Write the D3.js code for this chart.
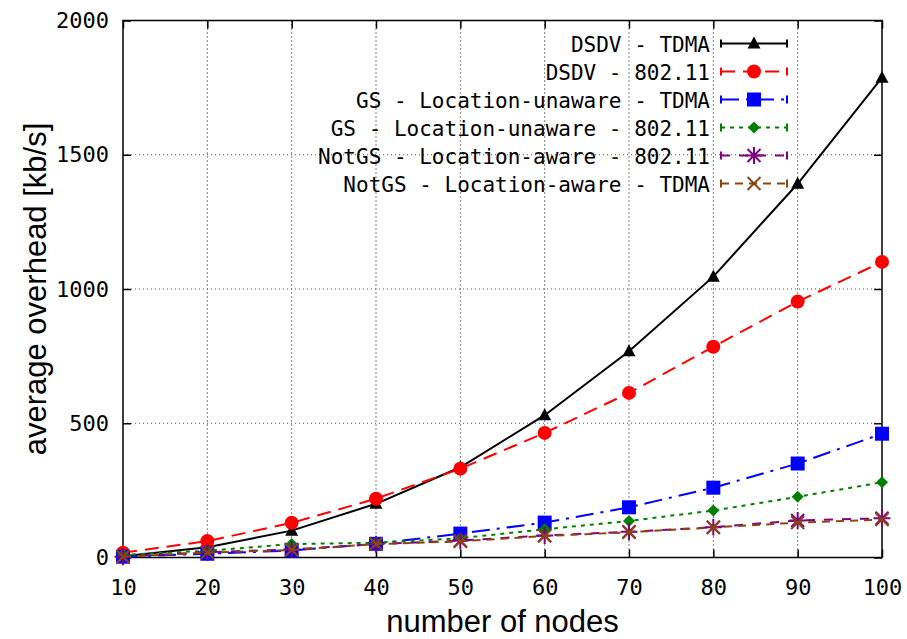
<!DOCTYPE html>
<html>
<head>
<meta charset="utf-8">
<script src="https://cdn.jsdelivr.net/npm/d3@7"></script>
<style>
body { margin: 0; background: #fff; }
</style>
</head>
<body>
<script>
// data
var nodes = [10, 20, 30, 40, 50, 60, 70, 80, 90, 100];
var dsdvTdma = [5, 38, 100, 200, 336, 530, 768, 1046, 1392, 1787];
var dsdv80211 = [18, 61, 129, 219, 331, 464, 613, 785, 953, 1101];
var gsTdma = [3, 14, 26, 51, 89, 130, 187, 260, 350, 461];
var gs80211 = [10, 25, 50, 55, 72, 105, 136, 175, 226, 280];
var notgs80211 = [3, 20, 30, 50, 63, 82, 96, 113, 138, 146];
var notgsTdma = [3, 18, 28, 50, 60, 80, 94, 112, 130, 141];
var xTicks = [10, 20, 30, 40, 50, 60, 70, 80, 90, 100];
var yTicks = [0, 500, 1000, 1500, 2000];

var seriesNames = [
	"DSDV - TDMA",
	"DSDV - 802.11",
	"GS - Location-unaware - TDMA",
	"GS - Location-unaware - 802.11",
	"NotGS - Location-aware - 802.11",
	"NotGS - Location-aware - TDMA"
];
var seriesValues = [dsdvTdma, dsdv80211, gsTdma, gs80211, notgs80211, notgsTdma];
var seriesColors = ["#000000", "#ff0000", "#0000ff", "#008000", "#800080", "#8b4513"];
var seriesDash = ["none", "14,8", "18,7,3,7", "4,5", "9,9", "8,6"];
var seriesMarker = ["triangle", "circle", "square", "diamond", "asterisk", "cross"];

var W = 907, H = 639;
var plotL = 123, plotR = 882, plotT = 20.5, plotB = 557.5;
var mono = "'DejaVu Sans Mono', monospace";
var sans = "'Liberation Sans', Arial, sans-serif";

var svg = d3.select("body").append("svg")
	.attr("width", W)
	.attr("height", H);

var x = d3.scaleLinear().domain([10, 100]).range([plotL, plotR]);
var y = d3.scaleLinear().domain([0, 2000]).range([plotB, plotT]);

// grid
svg.append("g").selectAll("line")
	.data(xTicks.slice(1, -1)).enter().append("line")
	.attr("x1", function(d){ return x(d); })
	.attr("x2", function(d){ return x(d); })
	.attr("y1", plotT).attr("y2", plotB)
	.attr("stroke", "#000").attr("stroke-width", 1)
	.attr("stroke-dasharray", "1,3");

svg.append("g").selectAll("line")
	.data(yTicks.slice(1, -1)).enter().append("line")
	.attr("x1", plotL).attr("x2", plotR)
	.attr("y1", function(d){ return y(d); })
	.attr("y2", function(d){ return y(d); })
	.attr("stroke", "#555").attr("stroke-width", 1)
	.attr("stroke-dasharray", "1,3");

// axes, ticks inward on all four sides
var tickLen = 8;
var axisStyle = function(g){
	g.select(".domain").remove();
	g.selectAll(".tick line").attr("stroke", "#000").attr("stroke-width", 1.5);
	g.selectAll(".tick text").attr("font-family", mono).attr("font-size", 22).attr("fill", "#000");
};

svg.append("g")
	.attr("transform", "translate(0," + plotB + ")")
	.call(d3.axisBottom(x).tickValues(xTicks).tickSizeInner(-tickLen).tickSizeOuter(0).tickPadding(22))
	.call(axisStyle);

svg.append("g")
	.attr("transform", "translate(0," + plotT + ")")
	.call(d3.axisTop(x).tickValues(xTicks).tickSizeInner(-tickLen).tickSizeOuter(0).tickFormat(""))
	.call(axisStyle);

svg.append("g")
	.attr("transform", "translate(" + plotL + ",0)")
	.call(d3.axisLeft(y).tickValues(yTicks).tickSizeInner(-tickLen).tickSizeOuter(0).tickPadding(14).tickFormat(d3.format("d")))
	.call(axisStyle);

svg.append("g")
	.attr("transform", "translate(" + plotR + ",0)")
	.call(d3.axisRight(y).tickValues(yTicks).tickSizeInner(-tickLen).tickSizeOuter(0).tickFormat(""))
	.call(axisStyle);

// frame
svg.append("rect")
	.attr("x", plotL).attr("y", plotT)
	.attr("width", plotR - plotL).attr("height", plotB - plotT)
	.attr("fill", "none").attr("stroke", "#000").attr("stroke-width", 1.5);

// axis titles
svg.append("text")
	.attr("x", (plotL + plotR) / 2).attr("y", 632)
	.attr("text-anchor", "middle")
	.attr("font-family", sans).attr("font-size", 31)
	.text("number of nodes");

svg.append("text")
	.attr("transform", "translate(46," + ((plotT + plotB) / 2) + ") rotate(-90)")
	.attr("text-anchor", "middle")
	.attr("font-family", sans).attr("font-size", 31)
	.text("average overhead [kb/s]");

// markers
var drawMarker = function(g, type, cx, cy, color){
	if(type === "triangle"){
		g.append("path")
			.attr("d", "M" + cx + "," + (cy - 7) + "L" + (cx + 6.5) + "," + (cy + 5) + "L" + (cx - 6.5) + "," + (cy + 5) + "Z")
			.attr("fill", color);
	}
	if(type === "circle"){
		g.append("circle").attr("cx", cx).attr("cy", cy).attr("r", 7).attr("fill", color);
	}
	if(type === "square"){
		g.append("rect").attr("x", cx - 7).attr("y", cy - 7)
			.attr("width", 14).attr("height", 14).attr("fill", color);
	}
	if(type === "diamond"){
		g.append("path")
			.attr("d", "M" + cx + "," + (cy - 6) + "L" + (cx + 6) + "," + cy + "L" + cx + "," + (cy + 6) + "L" + (cx - 6) + "," + cy + "Z")
			.attr("fill", color);
	}
	if(type === "asterisk" || type === "cross"){
		var s = 6.5;
		var d = "M" + (cx - s) + "," + (cy - s) + "L" + (cx + s) + "," + (cy + s) +
			"M" + (cx - s) + "," + (cy + s) + "L" + (cx + s) + "," + (cy - s);
		if(type === "asterisk"){
			d += "M" + cx + "," + (cy - s * 1.3) + "L" + cx + "," + (cy + s * 1.3) +
				"M" + (cx - s * 1.3) + "," + cy + "L" + (cx + s * 1.3) + "," + cy;
		}
		g.append("path").attr("d", d).attr("stroke", color).attr("stroke-width", 2).attr("fill", "none");
	}
};

// series lines
var line = d3.line()
	.x(function(d, i){ return x(nodes[i]); })
	.y(function(d){ return y(d); });

seriesValues.forEach(function(vals, k){
	var g = svg.append("g");
	g.append("path")
		.attr("d", line(vals))
		.attr("fill", "none")
		.attr("stroke", seriesColors[k])
		.attr("stroke-width", 2)
		.attr("stroke-dasharray", seriesDash[k]);
	vals.forEach(function(v, i){
		drawMarker(g, seriesMarker[k], x(nodes[i]), y(v), seriesColors[k]);
	});
});

// legend
var legendTextX = 710, sampleX1 = 721, sampleX2 = 787, rowY = 43.5, rowStep = 28;
seriesNames.forEach(function(name, k){
	var cy = rowY + k * rowStep;
	var g = svg.append("g");
	g.append("text")
		.attr("x", legendTextX).attr("y", cy + 8)
		.attr("text-anchor", "end")
		.attr("font-family", mono).attr("font-size", 21)
		.attr("fill", "#000")
		.text(name);
	g.append("line")
		.attr("x1", sampleX1).attr("x2", sampleX2)
		.attr("y1", cy).attr("y2", cy)
		.attr("stroke", seriesColors[k]).attr("stroke-width", 2)
		.attr("stroke-dasharray", seriesDash[k]);
	[sampleX1, sampleX2].forEach(function(cx){
		g.append("line")
			.attr("x1", cx).attr("x2", cx)
			.attr("y1", cy - 4).attr("y2", cy + 4)
			.attr("stroke", seriesColors[k]).attr("stroke-width", 2);
	});
	drawMarker(g, seriesMarker[k], (sampleX1 + sampleX2) / 2, cy, seriesColors[k]);
});
</script>
</body>
</html>
